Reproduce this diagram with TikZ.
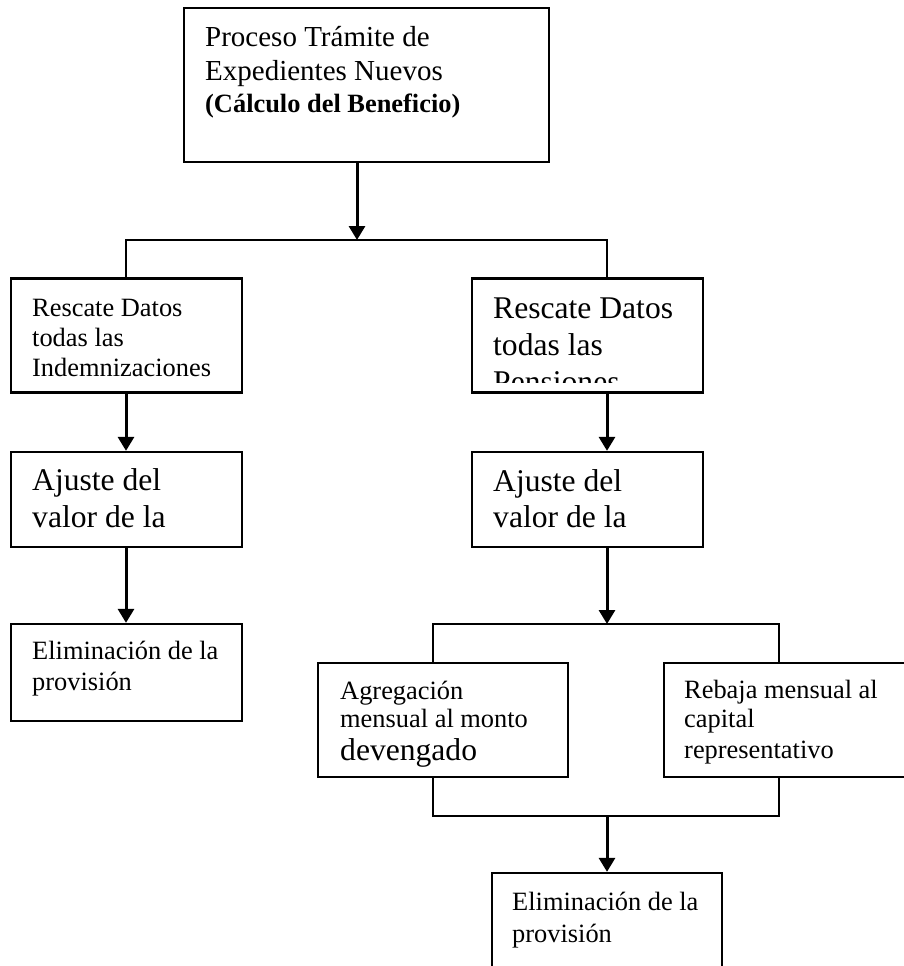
\documentclass[tikz,border=0pt]{standalone}
\usepackage{fontspec}
\setmainfont{Liberation Serif}
\usetikzlibrary{arrows.meta}

% text sizes used inside the boxes
\newcommand\fsml{\fontsize{26.4}{30}\selectfont}
\newcommand\flrg{\fontsize{31.6}{37}\selectfont}
\newcommand\fttl{\fontsize{29}{33}\selectfont}

\begin{document}
\begin{tikzpicture}[x=1pt,y=-1pt,
  box/.style={draw=black,line width=2.3pt,rectangle,inner sep=0pt,fill=white},
  txt/.style={inner sep=0pt,anchor=base west,text=black},
  ln/.style={draw=black,line width=2pt},
  arr/.style={draw=black,line width=3pt,-{Triangle[length=14pt,width=16pt]}}]

\clip (0,0) rectangle (904,966);
\fill[white] (0,0) rectangle (904,966);

% ---- boxes ----
\node[box,minimum width=365pt,minimum height=154pt] (top)  at (366.5,85)  {};
\node[box,minimum width=231pt,minimum height=114pt] (resI) at (126.5,335.5) {};
\node[box,minimum width=231pt,minimum height=114pt] (resP) at (587.5,335.5) {};
\node[box,minimum width=231pt,minimum height=95pt]  (ajI)  at (126.5,499.5) {};
\node[box,minimum width=231pt,minimum height=95pt]  (ajP)  at (587.5,499.5) {};
\node[box,minimum width=231pt,minimum height=97pt]  (elI)  at (126.5,672.5) {};
\node[box,minimum width=250pt,minimum height=114pt] (agr)  at (443,720)   {};
\node[box,minimum width=246pt,minimum height=114pt] (reb)  at (787,720)   {};
\node[box,minimum width=230pt,minimum height=110pt] (elP)  at (607,928)   {};

% ---- junction points ----
\coordinate (j1)  at (357,240);
\coordinate (j1l) at (126,240);
\coordinate (j1r) at (607,240);
\coordinate (j2)  at (607,624);
\coordinate (j2l) at (433,624);
\coordinate (j2r) at (779,624);
\coordinate (j3)  at (607,816);
\coordinate (j3l) at (433,816);
\coordinate (j3r) at (779,816);

% ---- connectors ----
\draw[arr] (j1 |- top.south) -- (j1);
\draw[ln] (j1l |- resI.north) -- (j1l) -- (j1r) -- (j1r |- resP.north);
\draw[arr] (j1l |- resI.south) -- (j1l |- ajI.north);
\draw[arr] (j1l |- ajI.south) -- (j1l |- elI.north);
\draw[arr] (j1r |- resP.south) -- (j1r |- ajP.north);
\draw[arr] (j2 |- ajP.south) -- (j2);
\draw[ln] (j2l |- agr.north) -- (j2l) -- (j2r) -- (j2r |- reb.north);
\draw[ln] (j3l |- agr.south) -- (j3l) -- (j3r) -- (j3r |- reb.south);
\draw[arr] (j3) -- (j3 |- elP.north);

% ---- texts ----
\node[txt,font=\fttl] (t1) at (205,47)  {Proceso Trámite de};
\node[txt,font=\fttl] (t2) at (205,81)  {Expedientes Nuevos};
\node[txt,font=\fsml\bfseries] (t3) at (205,112) {(Cálculo del Beneficio)};

\node[txt,font=\fsml] (r1) at (32,316) {Rescate Datos};
\node[txt,font=\fsml] (r2) at (32,346) {todas las};
\node[txt,font=\fsml] (r3) at (32,376) {Indemnizaciones};

\begin{scope}
  \clip (472,279) rectangle (703,382);
  \node[txt,font=\flrg] (p1) at (493,318) {Rescate Datos};
  \node[txt,font=\flrg] (p2) at (493,355) {todas las};
  \node[txt,font=\flrg] (p3) at (493,392) {Pensiones};
\end{scope}

\node[txt,font=\flrg] (a1) at (32,490)  {Ajuste del};
\node[txt,font=\flrg] (a2) at (32,527)  {valor de la};
\node[txt,font=\flrg] (b1) at (493,491) {Ajuste del};
\node[txt,font=\flrg] (b2) at (493,527) {valor de la};

\node[txt,font=\fsml] (e1) at (32,659) {Eliminación de la};
\node[txt,font=\fsml] (e2) at (32,690) {provisión};

\node[txt,font=\fsml] (g1) at (340,699) {Agregación};
\node[txt,font=\fsml] (g2) at (340,727) {mensual al monto};
\node[txt,font=\flrg] (g3) at (340,760) {devengado};

\node[txt,font=\fsml] (k1) at (684,698) {Rebaja mensual al};
\node[txt,font=\fsml] (k2) at (684,727) {capital};
\node[txt,font=\fsml] (k3) at (684,758) {representativo};

\node[txt,font=\fsml] (f1) at (512,910) {Eliminación de la};
\node[txt,font=\fsml] (f2) at (512,942) {provisión};

\end{tikzpicture}
\end{document}
